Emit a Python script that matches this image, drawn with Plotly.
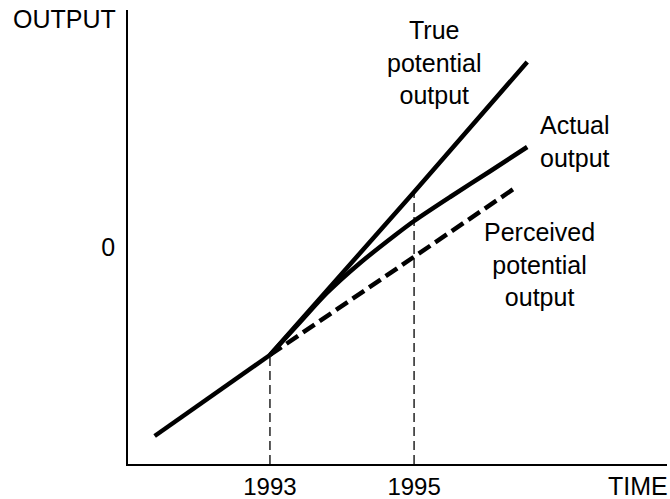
import plotly.graph_objects as go

# Data (time in years, output in arbitrary units; 0 marked on the axis)
pre_x = [1991.40, 1993.0]
pre_y = [-1.89, -1.08]

true_x = [1993.0, 1995.0, 1996.57]
true_y = [-1.08, 0.55, 1.85]

actual_x = [1993.0, 1993.42, 1993.79, 1994.25, 1994.74, 1995.0, 1995.5, 1996.06, 1996.57]
actual_y = [-1.08, -0.75, -0.46, -0.16, 0.12, 0.26, 0.50, 0.76, 1.00]

perceived_x = [1993.0, 1995.0, 1996.38]
perceived_y = [-1.08, -0.09, 0.58]

vline_x = [1993.0, 1995.0]
vline_top = [-1.08, 0.55]

x_ticks = [1993, 1995]
x_ticktext = ["1993", "1995"]
y_ticks = [0]
y_ticktext = ["0"]

X_MIN, X_MAX = 1991.03, 1998.51
Y_MIN, Y_MAX = -2.17, 2.37

FONT = "Liberation Sans, Arial, sans-serif"
fig = go.Figure()

# vertical dashed guides
for vx, vt in zip(vline_x, vline_top):
    fig.add_trace(go.Scatter(x=[vx, vx], y=[Y_MIN, vt], mode="lines",
                             line=dict(color="black", width=1.3, dash="9px,5px"),
                             hoverinfo="skip", showlegend=False))

fig.add_trace(go.Scatter(x=pre_x, y=pre_y, mode="lines",
                         line=dict(color="black", width=4.5), showlegend=False))
fig.add_trace(go.Scatter(x=perceived_x, y=perceived_y, mode="lines",
                         line=dict(color="black", width=4.5, dash="14px,6px"), showlegend=False))
fig.add_trace(go.Scatter(x=true_x, y=true_y, mode="lines",
                         line=dict(color="black", width=4.5), showlegend=False))
fig.add_trace(go.Scatter(x=actual_x, y=actual_y, mode="lines",
                         line=dict(color="black", width=4.5, shape="spline", smoothing=0.8),
                         showlegend=False))

tf = dict(family=FONT, size=25, color="black")
tick_f = dict(family=FONT, size=24, color="black")
ann = [
    dict(x=1995.29, y=1.85, xref="x", yref="y", text="True<br>potential<br>output",
         showarrow=False, font=tf, align="center"),
    dict(x=1997.24, y=1.06, xref="x", yref="y", text="Actual<br>output",
         showarrow=False, font=tf, align="center"),
    dict(x=1996.74, y=-0.17, xref="x", yref="y", text="Perceived<br>potential<br>output",
         showarrow=False, font=tf, align="center"),
    dict(x=0, y=0.980, xref="paper", yref="paper", text="OUTPUT", xanchor="right",
         yanchor="middle", xshift=-10, showarrow=False, font=tf),
    dict(x=1, y=-0.048, xref="paper", yref="paper", text="TIME", xanchor="right",
         yanchor="middle", xshift=3, showarrow=False, font=tf),
]

fig.update_layout(
    width=670, height=499,
    margin=dict(l=128, r=3, t=10, b=35),
    paper_bgcolor="white", plot_bgcolor="white",
    annotations=ann,
    xaxis=dict(range=[X_MIN, X_MAX], showgrid=False, zeroline=False,
               showline=True, linecolor="black", linewidth=1.5,
               tickvals=x_ticks, ticktext=x_ticktext, ticks="",
               tickfont=tick_f, ticklabelstandoff=0, automargin=False),
    yaxis=dict(range=[Y_MIN, Y_MAX], showgrid=False, zeroline=False,
               showline=True, linecolor="black", linewidth=1.5,
               tickvals=y_ticks, ticktext=y_ticktext, ticks="",
               tickfont=tf, ticklabelstandoff=6, automargin=False),
)

fig.write_html("out.html", config={"displayModeBar": False},
               post_script="document.body.style.margin='0px';")
